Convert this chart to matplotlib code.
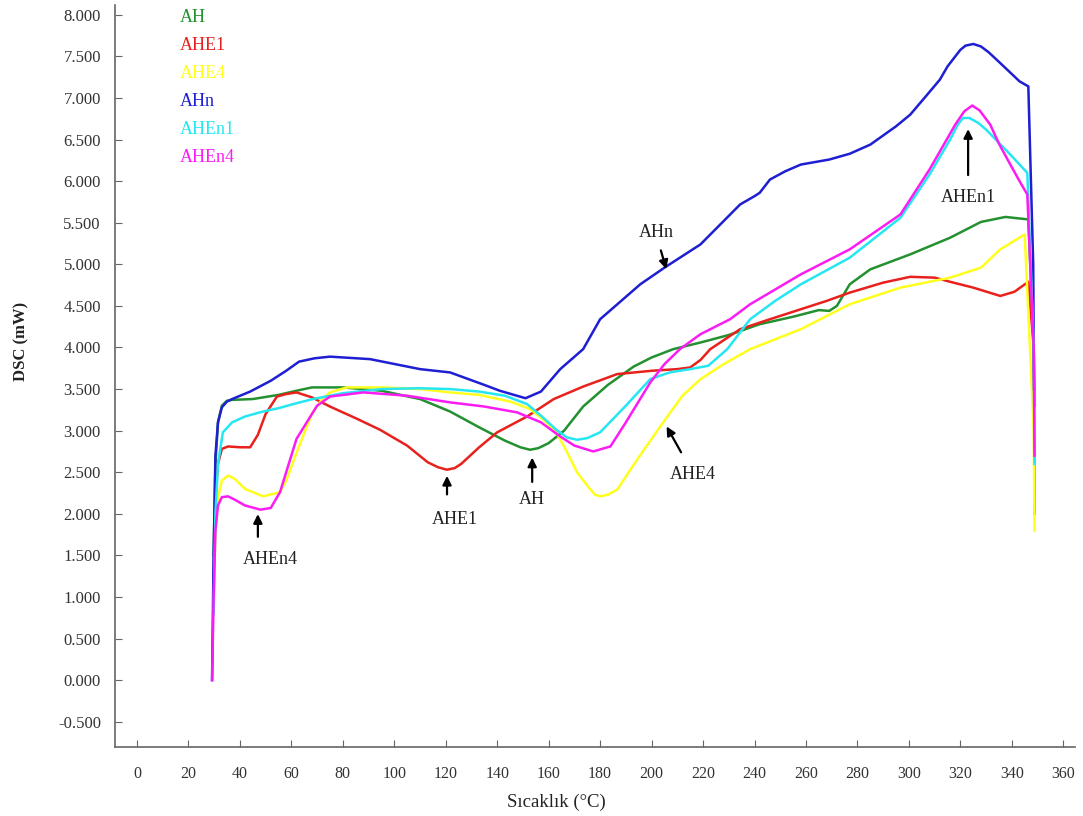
import matplotlib
matplotlib.use("Agg")
import matplotlib.pyplot as plt
import numpy as np

plt.rcParams['font.family'] = ['Liberation Serif', 'DejaVu Serif']

# ---- data (temperature in C, DSC in mW) ----
ah_t = [29.8, 30.5, 31.5, 33, 35, 37, 45, 55, 62, 68, 80, 95, 110, 121.7, 133, 143, 149, 152.8, 156,
        160, 166, 173.4, 183, 193, 200, 208.4, 219, 230, 242, 255, 265, 269, 272, 277, 285, 300.5,
        316, 328, 337.5, 346.4, 348.5, 348.8]
ah_y = [1.5, 2.6, 3.1, 3.3, 3.36, 3.37, 3.38, 3.43, 3.48, 3.52, 3.52, 3.48, 3.38, 3.23, 3.04, 2.88,
        2.80, 2.77, 2.79, 2.85, 3.0, 3.29, 3.55, 3.77, 3.88, 3.98, 4.06, 4.15, 4.28, 4.37, 4.45,
        4.44, 4.5, 4.76, 4.94, 5.12, 5.32, 5.51, 5.57, 5.54, 4.0, 2.0]

ahe1_t = [29.8, 30.5, 31.5, 33, 35.4, 40, 44, 47, 50, 54.4, 58, 62, 68, 75, 85, 94.5, 105, 113, 117,
          120.5, 123.5, 126, 133, 140, 151.6, 162, 173.4, 186.6, 200, 210, 215, 219, 222.8, 234.4,
          245, 258, 268, 277, 290, 300.5, 310, 316, 325, 335.5, 341, 346.4, 348.5, 348.8]
ahe1_y = [1.2, 2.2, 2.6, 2.78, 2.81, 2.80, 2.80, 2.95, 3.2, 3.41, 3.44, 3.46, 3.4, 3.29, 3.15, 3.01,
          2.82, 2.62, 2.56, 2.53, 2.55, 2.6, 2.80, 2.98, 3.17, 3.38, 3.53, 3.68, 3.72, 3.74, 3.76,
          3.85, 3.98, 4.22, 4.33, 4.46, 4.56, 4.66, 4.78, 4.85, 4.84, 4.79, 4.72, 4.62, 4.67, 4.79,
          4.0, 3.3]

ahe4_t = [29.8, 30.5, 31.5, 33, 35.4, 38, 42, 49, 55.6, 58, 61, 64.5, 68, 72, 75, 81.6, 95, 110, 121.7,
          133, 145, 152.8, 158, 163, 167, 171, 176, 178, 180, 183, 186.6, 195, 204.5, 212, 219, 228,
          238.3, 258, 277, 296.7, 316, 328, 335.5, 345, 348.5, 348.8]
ahe4_y = [1.0, 1.8, 2.2, 2.4, 2.46, 2.42, 2.3, 2.21, 2.26, 2.4, 2.65, 2.93, 3.2, 3.38, 3.46, 3.52,
          3.52, 3.5, 3.46, 3.43, 3.35, 3.26, 3.13, 2.98, 2.75, 2.50, 2.3, 2.23, 2.21, 2.23, 2.29,
          2.68, 3.10, 3.42, 3.62, 3.8, 3.98, 4.22, 4.52, 4.72, 4.84, 4.96, 5.18, 5.36, 3.0, 1.8]

ahn_t = [29.2, 29.8, 30.5, 31.5, 33, 35, 37, 44, 52, 58, 63, 69, 75, 90.6, 110, 121.7, 135, 141, 151,
         157, 164.5, 173.4, 180, 195.6, 205, 219, 234.4, 240, 242, 246, 252, 258, 269, 277, 285,
         290, 295, 300.5, 306, 312, 315, 318, 320, 322, 325, 328, 331, 335.5, 343, 346.4, 348.3,
         348.6]
ahn_y = [0.0, 1.5, 2.7, 3.1, 3.28, 3.35, 3.38, 3.47, 3.6, 3.72, 3.83, 3.87, 3.89, 3.86, 3.74, 3.70,
         3.55, 3.48, 3.39, 3.47, 3.74, 3.98, 4.34, 4.76, 4.96, 5.24, 5.72, 5.82, 5.86, 6.02, 6.12,
         6.2, 6.26, 6.33, 6.44, 6.55, 6.66, 6.8, 7.0, 7.22, 7.38, 7.5, 7.58, 7.63, 7.65, 7.62, 7.55,
         7.42, 7.2, 7.14, 5.0, 3.5]

ahen1_t = [29.8, 30.5, 31.5, 33.4, 37, 42, 49, 55, 62, 68.4, 80, 95, 110, 121.7, 133, 143, 151.6, 157,
           163, 167, 171, 175, 180, 190, 199.5, 207, 215, 222, 229.4, 238.3, 248, 258, 277, 296.7,
           308, 316, 319, 321, 323.5, 327, 330, 339.4, 346, 348.5, 348.8]
ahen1_y = [0.8, 2.0, 2.6, 2.98, 3.1, 3.17, 3.23, 3.27, 3.33, 3.38, 3.45, 3.5, 3.51, 3.5, 3.47, 3.42,
           3.32, 3.18, 3.01, 2.92, 2.89, 2.91, 2.98, 3.3, 3.62, 3.7, 3.74, 3.78, 3.98, 4.34, 4.56,
           4.76, 5.08, 5.56, 6.08, 6.5, 6.68, 6.76, 6.76, 6.7, 6.62, 6.32, 6.10, 4.0, 2.6]

ahen4_t = [29.2, 29.8, 30.5, 31.5, 33, 35.4, 38, 42, 48, 52, 55.6, 59, 62, 66, 70, 75, 88, 105, 121.7,
           135, 147.7, 157, 164.5, 170, 177.3, 184, 190, 199.5, 205, 211, 219, 230.5, 238.3, 258,
           277, 296.7, 308, 318, 321.5, 324.6, 327.5, 331.6, 335, 339.4, 343, 346, 348.5, 348.8]
ahen4_y = [0.0, 1.0, 1.8, 2.1, 2.2, 2.21, 2.17, 2.1, 2.05, 2.07, 2.26, 2.6, 2.9, 3.10, 3.3, 3.41,
           3.46, 3.42, 3.34, 3.29, 3.22, 3.1, 2.93, 2.82, 2.75, 2.81, 3.1, 3.58, 3.8, 3.98, 4.16,
           4.34, 4.52, 4.88, 5.18, 5.6, 6.14, 6.68, 6.84, 6.91, 6.85, 6.68, 6.45, 6.2, 6.0, 5.84,
           4.0, 2.7]

names = ["AH", "AHE1", "AHE4", "AHn", "AHEn1", "AHEn4"]
colors = ["#23912f", "#e8211d", "#ffff1e", "#1e1ed2", "#26e6f2", "#fb1cf4"]

# annotation labels: text, arrow tip, arrow tail, text position
notes = [
    ("AHEn4", (47, 2.03), (47, 1.69), (52, 1.45)),
    ("AHE1", (120.5, 2.49), (120.5, 2.2), (123.5, 1.93)),
    ("AH", (153.6, 2.71), (153.6, 2.35), (153.6, 2.17)),
    ("AHE4", (205.3, 3.08), (212, 2.71), (216, 2.47)),
    ("AHn", (206, 4.91), (203.3, 5.2), (202, 5.38)),
    ("AHEn1", (323, 6.66), (323, 6.04), (323, 5.8)),
]

fig = plt.figure(figsize=(10.83, 8.16), dpi=100)
ax = fig.add_axes([0.106, 0.085, 0.887, 0.909])

series = [(ah_t, ah_y), (ahe1_t, ahe1_y), (ahe4_t, ahe4_y),
          (ahn_t, ahn_y), (ahen1_t, ahen1_y), (ahen4_t, ahen4_y)]
for (t, y), c in zip(series, colors):
    ax.plot(t, y, color=c, lw=1.8, solid_joinstyle="round")

for label, tip, tail, txt in notes:
    ax.annotate("", xy=tip, xytext=tail,
                arrowprops=dict(arrowstyle="-|>", color="black", lw=1.6, mutation_scale=13))
    ax.text(txt[0], txt[1], label, ha="center", va="center", fontsize=13, color="#222222")

# coloured legend text, top-left
for i, (n, c) in enumerate(zip(names, colors)):
    fig.text(180 / 1083, 1 - (18 + 28 * i) / 816, n, color=c, fontsize=13, va="center", ha="left")

ax.set_xlim(-8.6, 364.7)
ax.set_ylim(-0.8, 8.12)
ax.set_xticks(np.arange(0, 361, 20))
ax.set_yticks(np.arange(-0.5, 8.01, 0.5))
ax.set_yticklabels(["%.3f" % v for v in np.arange(-0.5, 8.01, 0.5)])

for s in ["top", "right"]:
    ax.spines[s].set_visible(False)
for s in ["left", "bottom"]:
    ax.spines[s].set_color("#666666")
    ax.spines[s].set_linewidth(1.2)

ax.tick_params(axis="y", direction="in", length=5, color="#666666", labelsize=12,
               labelcolor="#333333", pad=10)
ax.tick_params(axis="x", direction="in", length=5, color="#666666", labelsize=11.5,
               labelcolor="#333333", pad=14)

ax.set_xlabel("Sıcaklık (°C)", fontsize=13.5, color="#222222")
ax.xaxis.set_label_coords(0.46, -0.064)
ax.set_ylabel("DSC (mW)", fontsize=12, fontweight="bold", color="#222222")
ax.yaxis.set_label_coords(-0.089, 0.546)

fig.savefig("out.png", dpi=100)
